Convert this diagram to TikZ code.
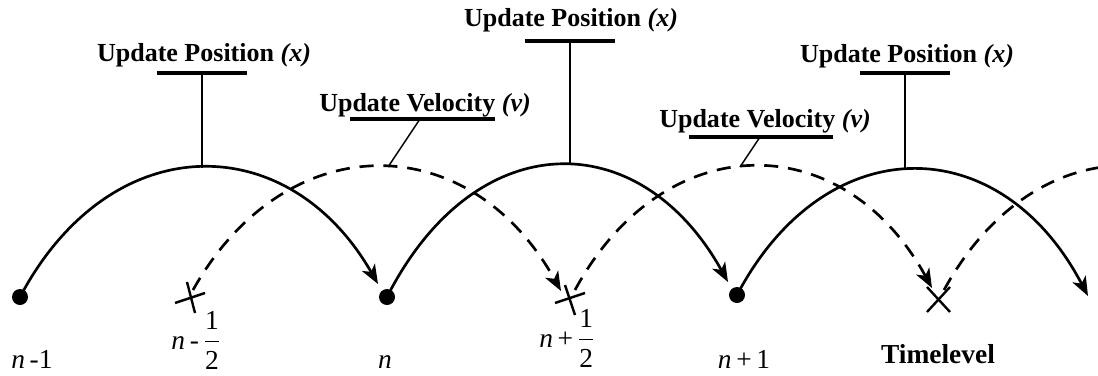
\documentclass[tikz,border=0pt]{standalone}
\usepackage{fontspec}
\setmainfont{Liberation Serif}
\usetikzlibrary{arrows.meta}
\begin{document}
\begin{tikzpicture}[x=0.025cm,y=-0.025cm,
  arc/.style={line width=1.9pt, line cap=round, -{Stealth[length=4.8mm,width=3.7mm,inset=1.3mm]}},
  varc/.style={arc, line cap=butt, dash pattern=on 10pt off 7pt},
  lead/.style={line width=1pt},
  uline/.style={line width=2.4pt},
  lab/.style={font=\fontsize{18.5pt}{22pt}\selectfont\bfseries, anchor=base, inner sep=0pt},
  tlab/.style={font=\fontsize{19.5pt}{23pt}\selectfont, anchor=base, inner sep=0pt},
  dot/.style={circle, fill=black, inner sep=0pt, minimum size=0.4cm},
  xmark/.style={line width=1.7pt}]
\useasboundingbox (0,0) rectangle (1098,375);

% time level points
\node[dot] (A0) at (20,297) {};
\node[dot] (A1) at (387,297) {};
\node[dot] (A2) at (737,295) {};
\coordinate (B0) at (190,298);
\coordinate (B1) at (570,300);
\coordinate (B2) at (938,300);

% arrow ends
\coordinate (T1) at (378,284);
\coordinate (T2) at (728,282);
\coordinate (T3) at (1088,296);
\coordinate (S1) at (193,290);
\coordinate (E1) at (561,291);
\coordinate (S2) at (575,290);
\coordinate (E2) at (932,288);
\coordinate (S3) at (944,290);
\coordinate (E3) at (1300,290);

% crosses
\draw[xmark] ([shift={(-15,5)}]B0) -- ([shift={(15,-5)}]B0);
\draw[xmark] ([shift={(-3,-16)}]B0) -- ([shift={(5,15)}]B0);
\draw[xmark] ([shift={(-15,3)}]B1) -- ([shift={(15,-7)}]B1);
\draw[xmark] ([shift={(-5,-15)}]B1) -- ([shift={(5,15)}]B1);
\draw[xmark] ([shift={(-11,-13)}]B2) -- ([shift={(12,12)}]B2);
\draw[xmark] ([shift={(12,-13)}]B2) -- ([shift={(-11,12)}]B2);

% solid arcs (position updates)
\draw[arc] (A0.center) .. controls (110,127) and (288,127) .. (T1);
\draw[arc] (A1.center) .. controls (475,124) and (640,124) .. (T2);
\draw[arc] (A2.center) .. controls (825,128) and (1000,128) .. (T3);

% dashed arcs (velocity updates)
\begin{scope}
\clip (0,0) rectangle (1098,375);
\draw[varc] (S1) .. controls (285,126) and (469,126) .. (E1);
\draw[varc] (S2) .. controls (664,126) and (843,126) .. (E2);
\draw[varc] (S3) .. controls (1034,126) and (1210,126) .. (E3);
\end{scope}

% labels
\node[lab] (up1) at (204,61) {Update Position \textit{(x)}};
\node[lab] (up2) at (571,26) {Update Position \textit{(x)}};
\node[lab] (up3) at (907,62) {Update Position \textit{(x)}};
\node[lab] (uv1) at (425,111) {Update Velocity \textit{(v)}};
\node[lab] (uv2) at (765,127) {Update Velocity \textit{(v)}};

\coordinate (u1a) at (157,73); \coordinate (u1b) at (247,73); \coordinate (u1m) at (202,73);
\coordinate (u2a) at (525,41); \coordinate (u2b) at (615,41); \coordinate (u2m) at (570,41);
\coordinate (u3a) at (860,73); \coordinate (u3b) at (950,73); \coordinate (u3m) at (905,73);
\coordinate (v1a) at (350,119); \coordinate (v1b) at (495,119); \coordinate (v1m) at (420,119);
\coordinate (v2a) at (689,137); \coordinate (v2b) at (833,137); \coordinate (v2m) at (760,137);
\coordinate (p1) at (202,168);
\coordinate (p2) at (570,165);
\coordinate (p3) at (905,170);
\coordinate (q1) at (388,167);
\coordinate (q2) at (740,167);

\draw[uline] (u1a) -- (u1b);
\draw[uline] (u2a) -- (u2b);
\draw[uline] (u3a) -- (u3b);
\draw[uline] (v1a) -- (v1b);
\draw[uline] (v2a) -- (v2b);
\draw[lead] (u1m) -- (p1);
\draw[lead] (u2m) -- (p2);
\draw[lead] (u3m) -- (p3);
\draw[lead] (v1m) -- (q1);
\draw[lead] (v2m) -- (q2);

% time level labels
\node[tlab] (l0) at (32,368) {\textit{n}\,-1};
\node[tlab] (l1) at (196,349) {\textit{n}\,-\,$\displaystyle\frac{\mbox{1}}{\mbox{2}}$};
\node[tlab] (l2) at (385,368) {\textit{n}};
\node[tlab] (l3) at (567,347) {\textit{n}\,+\,$\displaystyle\frac{\mbox{1}}{\mbox{2}}$};
\node[tlab] (l4) at (744,368) {\textit{n}\,+\,1};
\node[tlab] (l5) at (938,363) {\textbf{Timelevel}};
\end{tikzpicture}
\end{document}
